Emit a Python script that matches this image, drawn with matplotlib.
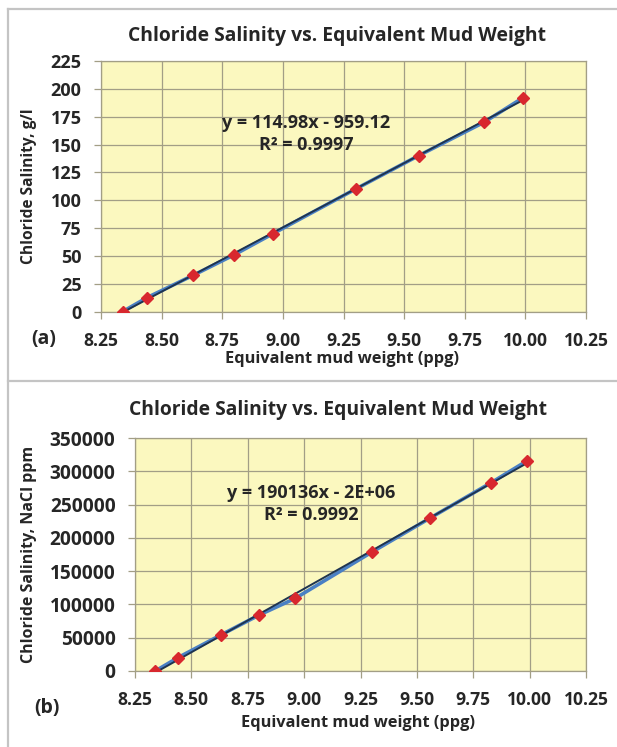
"""Chloride salinity vs. equivalent mud weight - two stacked panels (a) g/l, (b) NaCl ppm"""
import matplotlib
matplotlib.use('Agg')
import matplotlib.pyplot as plt
from matplotlib.lines import Line2D
import numpy as np

plt.rcParams['font.family'] = ['Open Sans', 'DejaVu Sans']
plt.rcParams['font.weight'] = 'bold'

# ---- data ----
mud_weight = [8.34, 8.44, 8.63, 8.80, 8.96, 9.30, 9.56, 9.83, 9.99]
salinity_gl = [0, 12.5, 32.5, 51, 70, 110, 140, 170, 192]
salinity_ppm = [0, 20000, 54000, 84000, 109000, 178500, 230000, 283000, 316000]

x_ticks = [8.25, 8.50, 8.75, 9.00, 9.25, 9.50, 9.75, 10.00, 10.25]
y_ticks_a = [0, 25, 50, 75, 100, 125, 150, 175, 200, 225]
y_ticks_b = [0, 50000, 100000, 150000, 200000, 250000, 300000, 350000]

eq_a = ['y = 114.98x - 959.12', 'R² = 0.9997']
eq_b = ['y = 190136x - 2E+06', 'R² = 0.9992']

title = 'Chloride Salinity vs. Equivalent Mud Weight'
xlabel = 'Equivalent mud weight (ppg)'

W, H = 617, 747
TXT = '#262626'
GRID = '#A29E86'
FACE = '#FBF8BF'


def px(x, y):
    """像素坐标 -> figure 坐标"""
    return x / W, 1 - y / H


def axes_rect(left, top, right, bottom):
    return [left / W, 1 - bottom / H, (right - left) / W, (bottom - top) / H]


def _panel(fig, rect, yvals, yticks, ylabel, ylsize, ytsize, eq, eq_xy):
    ax = fig.add_axes(rect)
    ax.set_facecolor(FACE)
    ax.set_xlim(x_ticks[0], x_ticks[-1])
    ax.set_ylim(yticks[0], yticks[-1])
    ax.set_xticks(x_ticks)
    ax.set_yticks(yticks)
    ax.set_xticklabels([f'{v:.2f}' for v in x_ticks])
    ax.set_yticklabels([f'{v:d}' for v in yticks])
    ax.grid(True, color=GRID, linewidth=0.9)
    ax.set_axisbelow(True)
    for s in ax.spines.values():
        s.set_color(GRID)
        s.set_linewidth(0.9)
    ax.tick_params(direction='out', length=5, width=0.9, color=GRID,
                   labelcolor=TXT)
    ax.tick_params(axis='x', labelsize=12.6, pad=9.5)
    ax.tick_params(axis='y', labelsize=ytsize, pad=9)

    x = np.array(mud_weight)
    y = np.array(yvals)
    # 数据折线
    ax.plot(x, y, color='#4A80C4', linewidth=2.6, zorder=3, solid_capstyle='round')
    # 线性趋势线
    k, b = np.polyfit(x, y, 1)
    xs = np.array([x[0], x[-1]])
    ax.plot(xs, k * xs + b, color='#1E3450', linewidth=1.4, zorder=4)
    # 红色菱形标记
    ax.plot(x, y, linestyle='none', marker='D', markersize=6.5,
            color='#D8282E', zorder=5)

    ax.set_ylabel(ylabel, fontsize=ylsize, color=TXT, fontweight='bold')
    ex, ey = eq_xy
    fig.text(*px(ex, ey), eq[0], ha='center', va='center', fontsize=13,
             color=TXT, fontweight='bold')
    fig.text(*px(ex, ey + 22), eq[1], ha='center', va='center', fontsize=13,
             color=TXT, fontweight='bold')
    return ax


fig = plt.figure(figsize=(W / 100, H / 100), dpi=100)

# ===== (a) g/l =====
ax1 = _panel(fig, axes_rect(101, 61, 586, 311.5), salinity_gl, y_ticks_a,
             'Chloride Salinity, g/l', 11.2, 13, eq_a, (306, 123))
fig.text(*px(337, 36), title, ha='center', va='center', fontsize=13.9,
         color=TXT, fontweight='bold')
fig.text(*px(342, 359), xlabel, ha='center', va='center', fontsize=11.8,
         color=TXT, fontweight='bold')
fig.text(*px(44, 339), '(a)', ha='center', va='center', fontsize=14,
         color=TXT, fontweight='bold')

# ===== (b) ppm =====
ax2 = _panel(fig, axes_rect(135, 438, 586, 671), salinity_ppm, y_ticks_b,
             'Chloride Salinity, NaCl ppm', 11.5, 13.8, eq_b, (311, 493))
fig.text(*px(338, 410), title, ha='center', va='center', fontsize=13.9,
         color=TXT, fontweight='bold')
fig.text(*px(358, 723), xlabel, ha='center', va='center', fontsize=11.8,
         color=TXT, fontweight='bold')
fig.text(*px(47, 708), '(b)', ha='center', va='center', fontsize=14,
         color=TXT, fontweight='bold')

# y 轴标签位置（像素对齐）
for ax, left in [(ax1, 101), (ax2, 135)]:
    ax.yaxis.set_label_coords(-(left - 37) / (586 - left), 0.5)

# 面板边框
for (x0, y0, x1, y1) in [(7.5, 8.5, 617, 8.5), (7.5, 8.5, 7.5, 747),
                         (7.5, 380.5, 617, 380.5)]:
    a, b_ = px(x0, y0)
    c, d = px(x1, y1)
    fig.add_artist(Line2D([a, c], [b_, d], color='#C4C4C4', linewidth=1.6))

plt.savefig('out.png', dpi=100, facecolor='white')
plt.close()
